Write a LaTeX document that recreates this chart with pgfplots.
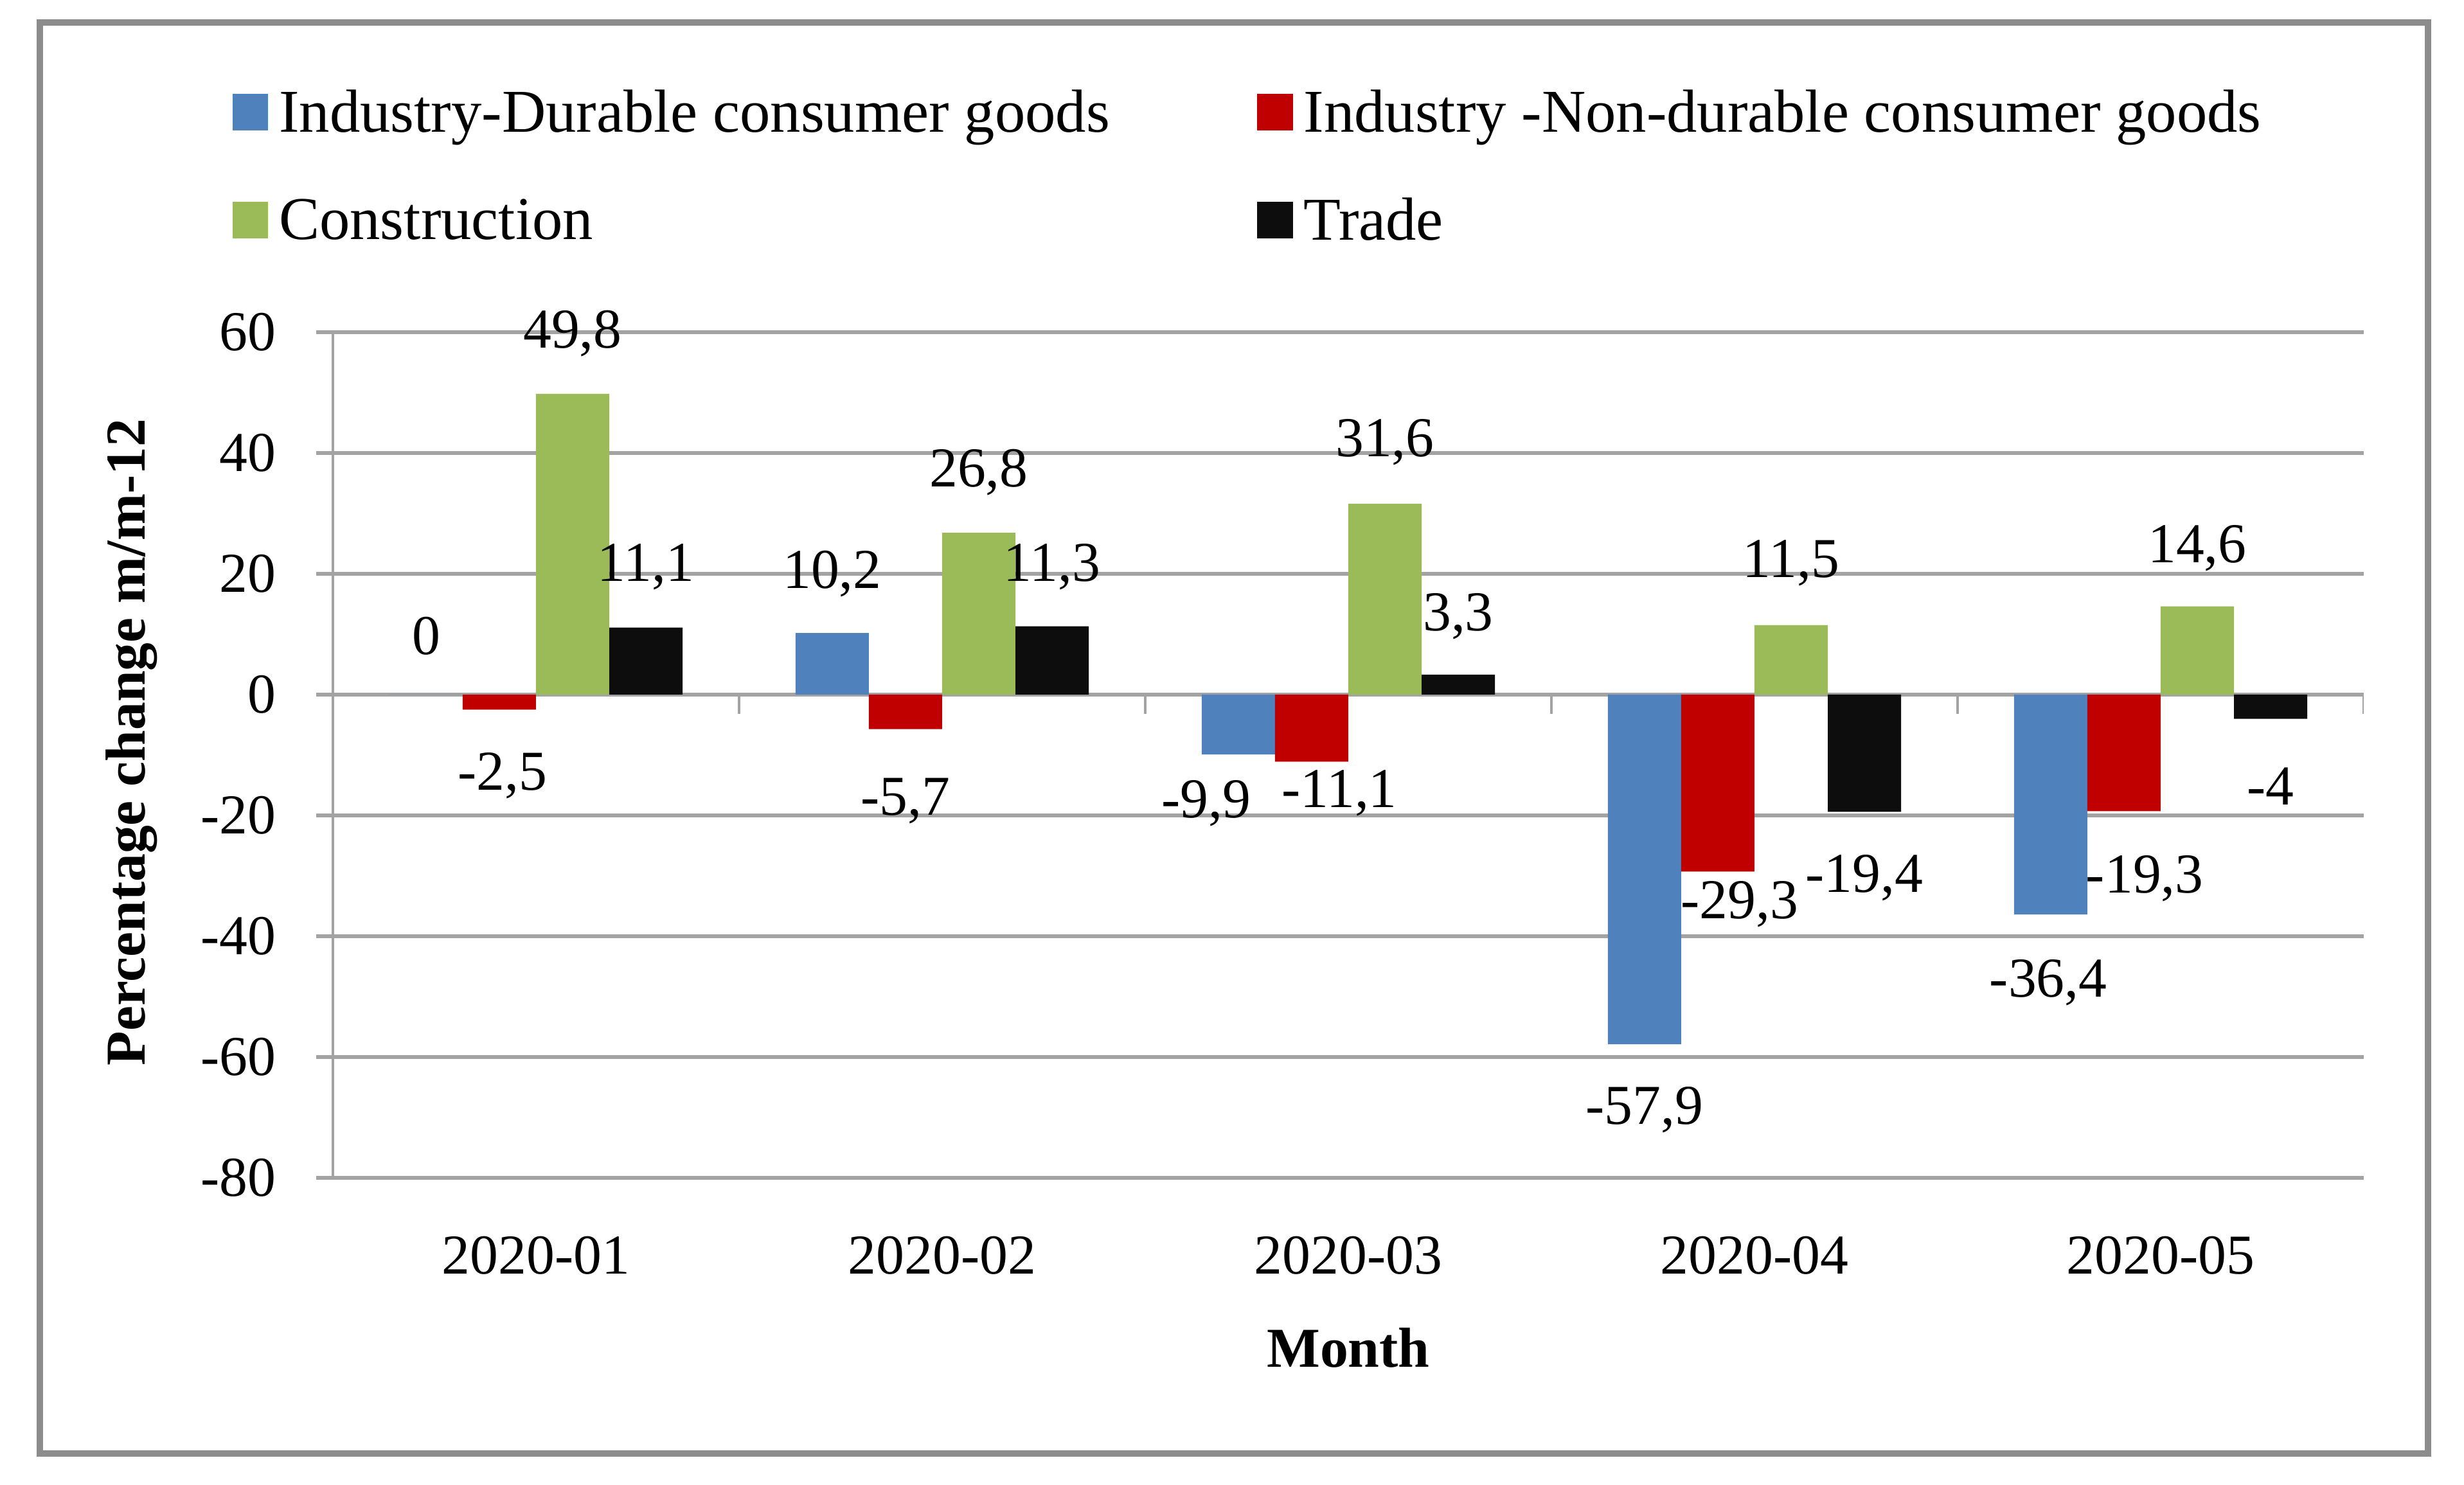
\documentclass[border=0pt]{standalone}
\usepackage{pgfplots}
\usepackage{pgfplotstable}
\pgfplotsset{compat=1.18}
\usepackage{fontspec}
\setmainfont{Liberation Serif}
\definecolor{cblue}{HTML}{4F81BD}
\definecolor{cred}{HTML}{C00000}
\definecolor{cgreen}{HTML}{9BBB59}
\definecolor{cblack}{HTML}{0D0D0D}
\definecolor{gridc}{HTML}{A3A3A3}
\definecolor{framec}{HTML}{8C8C8C}

% x = month index, y = value, dx/dy = label offset (pt) from bar end
\pgfplotstableread{
x y dx dy
0 0 0 11.8
1 10.2 0 12.0
2 -9.9 -6.5 -9.9
3 -57.9 0 -13.3
4 -36.4 -0.5 -13.8
}\tdur
\pgfplotstableread{
x y dx dy
0 -2.5 0.6 -13.4
1 -5.7 0 -14.5
2 -11.1 5.6 -6.4
3 -29.3 4.4 -6.6
4 -19.3 4.2 -13.6
}\tnon
\pgfplotstableread{
x y dx dy
0 49.8 0 12.2
1 26.8 0 12.2
2 31.6 0 12.4
3 11.5 0 12.6
4 14.6 0 11.7
}\tcon
\pgfplotstableread{
x y dx dy
0 11.1 0 12.2
1 11.3 0 12.0
2 3.3 0 11.8
3 -19.4 0 -13.4
4 -4 0 -13.6
}\ttra

\begin{document}
\fontsize{11.4}{13.7}\selectfont
\begin{tikzpicture}
\path[use as bounding box] (0,0) rectangle (498.42pt,300.3pt);
\draw[framec, line width=1.3pt] (8.06pt,6.24pt) rectangle (491.1pt,295.75pt);
\begin{axis}[
  at={(67.34pt,62.01pt)}, anchor=south west,
  scale only axis, width=410.8pt, height=171.1pt,
  xmin=-0.5, xmax=4.5, ymin=-80, ymax=60,
  ytick={-80,-60,-40,-20,0,20,40,60},
  xtick={0,1,2,3,4},
  xticklabels={2020-01,2020-02,2020-03,2020-04,2020-05},
  /pgf/number format/assume math mode=true,
  axis x line*=bottom, axis y line*=left,
  x axis line style={draw=none},
  y axis line style={gridc, line width=0.6pt, -},
  xtick style={draw=none},
  ytick style={gridc, line width=0.7pt},
  tick align=outside, major tick length=3.4pt,
  ymajorgrids, grid style={gridc, line width=0.7pt},
  yticklabel style={xshift=-4.1pt},
  xticklabel style={yshift=-4.4pt},
  xlabel={Month}, ylabel={Percentage change m/m-12},
  xlabel style={at={(axis description cs:0.5,-0.2013)}, anchor=center, font=\bfseries},
  ylabel style={at={(axis description cs:-0.099,0.515)}, anchor=center, font=\bfseries},
  ybar, bar width=0.1804,
  point meta=y,
  nodes near coords={\pgfmathprintnumber[assume math mode=true,use comma,fixed,precision=1]{\pgfplotspointmeta}},
  visualization depends on={\thisrow{dx} \as \ldx},
  visualization depends on={\thisrow{dy} \as \ldy},
  every node near coord/.append style={anchor=center, inner sep=0pt, xshift=\ldx pt, yshift=\ldy pt, text=black},
  legend columns=2, legend cell align=left,
  legend image code/.code={\fill[#1] (0pt,-3.0pt) rectangle (7.2pt,4.3pt);},
  legend style={at={(axis description cs:-0.04937,1.298)}, anchor=north west,
    draw=none, fill=none, inner sep=0pt, outer sep=0pt,
    font=\fontsize{12.3}{14.8}\selectfont,
    row sep=7.6pt,
    /tikz/every odd column/.append style={column sep=0.2pt},
    /tikz/every even column/.append style={column sep=27.8pt}},
]
\addplot[draw=none, fill=cblue, bar shift=-0.2706] table[x=x,y=y] {\tdur};
\addlegendentry{Industry-Durable consumer goods}
\addplot[draw=none, fill=cred, bar shift=-0.0902] table[x=x,y=y] {\tnon};
\addlegendentry{Industry -Non-durable consumer goods}
\addplot[draw=none, fill=cgreen, bar shift=0.0902] table[x=x,y=y] {\tcon};
\addlegendentry{Construction}
\addplot[draw=none, fill=cblack, bar shift=0.2706] table[x=x,y=y] {\ttra};
\addlegendentry{Trade}
\draw[gridc, line width=0.6pt] (axis cs:0.5,0) -- ++(0pt,-3.9pt);
\draw[gridc, line width=0.6pt] (axis cs:1.5,0) -- ++(0pt,-3.9pt);
\draw[gridc, line width=0.6pt] (axis cs:2.5,0) -- ++(0pt,-3.9pt);
\draw[gridc, line width=0.6pt] (axis cs:3.5,0) -- ++(0pt,-3.9pt);
\draw[gridc, line width=0.6pt] (axis cs:4.5,0) -- ++(0pt,-3.9pt);
\end{axis}
\end{tikzpicture}
\end{document}
